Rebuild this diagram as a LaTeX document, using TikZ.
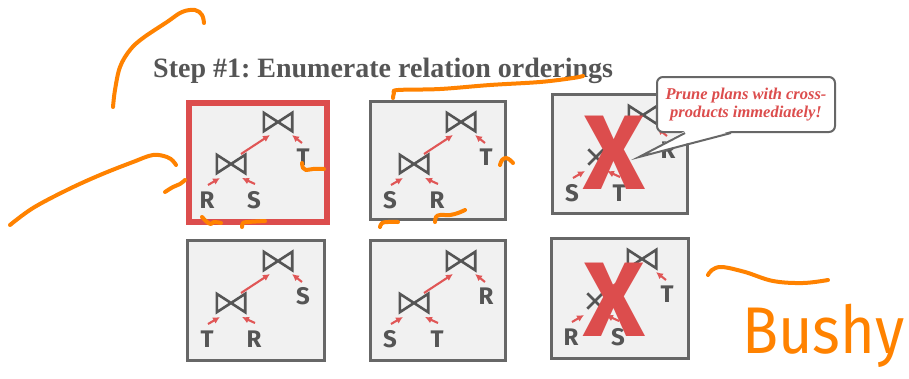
\documentclass[tikz,border=0pt]{standalone}
\usepackage{fontspec}
\setmainfont{Liberation Serif}
\newfontfamily\leaffont{Fira Sans}
\newfontfamily\handfont[FakeStretch=0.9]{Fira Sans}
\usetikzlibrary{positioning,arrows.meta}
\frenchspacing
\definecolor{uInk}{HTML}{555555}
\definecolor{uBox}{HTML}{676767}
\definecolor{uFill}{HTML}{F1F1F1}
\definecolor{uRed}{HTML}{DC4D4D}
\definecolor{uArrow}{HTML}{E05656}
\definecolor{uPen}{HTML}{FF8200}
\tikzset{
  planbox/.style={draw=uBox, line width=2.5pt, fill=uFill, anchor=north west,
                  inner sep=0pt},
  chosen/.style={draw=uRed, line width=6pt},
  joinbox/.style={minimum width=28pt, minimum height=18pt, inner sep=0pt},
  crossbox/.style={minimum width=15pt, minimum height=15pt, inner sep=0pt},
  opline/.style={draw=uInk, line width=2.6pt, line join=miter},
  leaf/.style={font=\leaffont\bfseries\fontsize{24}{24}\selectfont, text=uInk,
               anchor=base, inner sep=0pt},
  edge/.style={-{Latex[length=7pt,width=7pt]}, draw=uArrow, line width=2.1pt},
  veto/.style={font=\leaffont\bfseries\fontsize{106}{106}\selectfont, text=uRed,
               inner sep=0pt},
  % the speech bubble over the third plan
  notebox/.style={draw=uBox, line width=2pt, fill=white, rounded corners=6pt,
                  minimum width=178pt, minimum height=55pt, inner sep=0pt,
                  align=center, text=uRed,
                  font=\bfseries\itshape\fontsize{16.5}{18}\selectfont},
  noteline/.style={draw=uBox, line width=2pt, line join=miter},
  title/.style={font=\bfseries\fontsize{28}{32}\selectfont, text=uInk,
                anchor=base west, inner sep=0pt},
  ink/.style={draw=uPen, line width=4pt, line cap=round, line join=round},
  scrawl/.style={font=\handfont\fontsize{66}{66}\selectfont, text=uPen,
                 anchor=base west, inner sep=0pt},
}
\newcommand{\joinmark}[1]{%
  \draw[opline] (#1.north west) -- (#1.south east) -- (#1.north east)
    -- (#1.south west) -- cycle;}
\newcommand{\crossmark}[1]{%
  \draw[opline] (#1.north west) -- (#1.south east)
    (#1.north east) -- (#1.south west);}
% #1 box name, #2 mark of the lower operator, #3 #4 bottom leaves, #5 side leaf
\newcommand{\plantree}[6]{%
  \node[joinbox] (#1top) at ([shift={(92,22)}]#1.north west) {};
  \node[#2] (#1low) at ([shift={(45,64)}]#1.north west) {};
  \node[leaf] (#1l) at ([shift={(21,108)}]#1.north west) {#4};
  \node[leaf] (#1r) at ([shift={(68,108)}]#1.north west) {#5};
  \node[leaf] (#1s) at ([shift={(117,65)}]#1.north west) {#6};
  \joinmark{#1top}
  #3{#1low}
  \draw[edge] ([shift={(1,-23)}]#1l.base) -- ([shift={(-11,14)}]#1low.center);
  \draw[edge] ([shift={(1,-24)}]#1r.base) -- ([shift={(11,14)}]#1low.center);
  \draw[edge] ([shift={(10,-10)}]#1low.center) -- ([shift={(-8,13)}]#1top.center);
  \draw[edge] ([shift={(-1,-22)}]#1s.base) -- ([shift={(14,13)}]#1top.center);
}

\begin{document}
\begin{tikzpicture}[x=1pt, y=-1pt]
\useasboundingbox (0,0) rectangle (909,378);

\node[title] (head) at (153,77) {Step \#1: Enumerate relation orderings};

% top row
\node[planbox, chosen, minimum width=138pt, minimum height=119pt] (b1) at (186,100) {};
\plantree{b1}{joinbox}{\joinmark}{R}{S}{T}
\node[planbox, minimum width=135pt, minimum height=118pt] (b2) at (369,100) {};
\plantree{b2}{joinbox}{\joinmark}{S}{R}{T}
\node[planbox, minimum width=135pt, minimum height=119pt] (b3) at (551,93) {};
\plantree{b3}{crossbox}{\crossmark}{S}{T}{R}
\node[veto] (b3x) at ([shift={(63,60)}]b3.north west) {X};

% bottom row
\node[planbox, minimum width=137pt, minimum height=120pt] (b4) at (186,239) {};
\plantree{b4}{joinbox}{\joinmark}{T}{R}{S}
\node[planbox, minimum width=135pt, minimum height=120pt] (b5) at (369,239) {};
\plantree{b5}{joinbox}{\joinmark}{S}{T}{R}
\node[planbox, minimum width=137pt, minimum height=120pt] (b6) at (550,237) {};
\plantree{b6}{crossbox}{\crossmark}{R}{S}{T}
\node[veto] (b6x) at ([shift={(64,63)}]b6.north west) {X};

% callout
\node[notebox] (note) at (746,104.5) {Prune plans with cross-\\products immediately!};
\coordinate (tip) at (639,157);
\fill[white] ([shift={(-61,-2)}]note.south) -- (tip) -- ([shift={(-15,-2)}]note.south) -- cycle;
\draw[noteline] ([xshift=-61pt]note.south) -- (tip) -- ([xshift=-15pt]note.south);

% pen marks
\draw[ink] plot[smooth, tension=0.6] coordinates {(113,107) (115,90) (120,67) (130,50)
  (143,38) (167,22) (182,12) (195,10) (202,15) (204,23)};
\draw[ink] plot[smooth, tension=0.6] coordinates {(10,225) (33,208) (67,190) (100,175)
  (133,162) (153,155) (167,157) (173,161) (176,165)};
\draw[ink] plot[smooth, tension=0.6] coordinates {(165,192) (173,187) (180,184) (185,180)};
\draw[ink] plot[smooth, tension=0.6] coordinates {(302,163) (303,168) (306,170) (313,169) (324,169)};
\draw[ink] plot[smooth, tension=0.6] coordinates {(202,217) (207,222) (211,224) (214,222) (221,223)};
\draw[ink] plot[smooth, tension=0.6] coordinates {(242,227) (243,223) (248,222) (265,221)};
\draw[ink] plot[smooth, tension=0.6] coordinates {(393,98) (394,93) (398,90) (440,89)
  (490,85) (540,82) (573,78) (583,76)};
\draw[ink] plot[smooth, tension=0.6] coordinates {(500,165) (502,160) (506,158) (510,160) (513,163)};
\draw[ink] plot[smooth, tension=0.6] coordinates {(380,227) (382,223) (388,222) (398,222)};
\draw[ink] plot[smooth, tension=0.6] coordinates {(435,222) (436,217) (440,215) (450,215)
  (458,213) (465,210)};
\draw[ink] plot[smooth, tension=0.6] coordinates {(708,275) (712,270) (722,267) (745,272)
  (773,281) (803,283) (828,280)};
\node[scrawl] (bushy) at (742,353) {Bushy};
\end{tikzpicture}
\end{document}
